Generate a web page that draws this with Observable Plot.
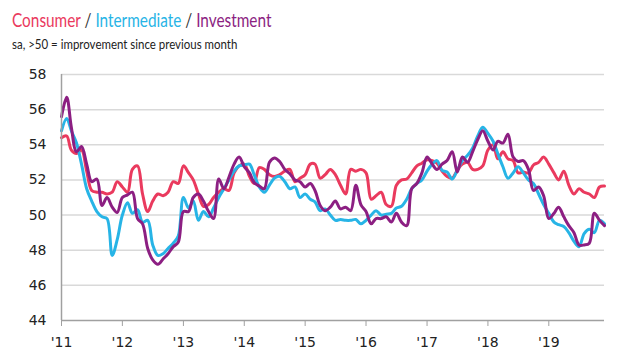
<!DOCTYPE html>
<html>
<head>
<meta charset="utf-8">
<script src="https://cdn.jsdelivr.net/npm/d3@7"></script>
<script src="https://cdn.jsdelivr.net/npm/@observablehq/plot@0.6"></script>
<style>
  html, body { margin: 0; padding: 0; background: #fff; }
  #wrap { width: 640px; height: 360px; position: relative; overflow: hidden; }
  #head { height: 60px; position: relative; }
  #sub { position: absolute; left: 12px; top: 9px; font-family: Lato, "Open Sans", sans-serif; font-size: 18.5px; color: #333; white-space: nowrap; transform: scaleX(0.83); transform-origin: 0 0; }
  #note { position: absolute; left: 12px; top: 36px; font-family: Lato, "Open Sans", sans-serif; font-size: 13.5px; color: #222; white-space: nowrap; transform: scaleX(0.85); transform-origin: 0 0; }
  #chart svg { display: block; }
</style>
</head>
<body>
<div id="wrap">
  <div id="head">
    <div id="sub"><span id="s0"></span> / <span id="s1"></span> / <span id="s2"></span></div>
    <div id="note">sa, &gt;50 = improvement since previous month</div>
  </div>
  <div id="chart"></div>
</div>
<script>
const seriesNames = ["Consumer", "Intermediate", "Investment"];
const seriesColors = ["#ea3a5e", "#27b4e6", "#8c1f82"];
const yTicks = [44, 46, 48, 50, 52, 54, 56, 58];
const yearTickLabels = ["'11", "'12", "'13", "'14", "'15", "'16", "'17", "'18", "'19"];

// Monthly values, Jan 2011 .. Dec 2019
const consumer = [
  54.4, 54.5, 53.7, 53.5, 53.7, 52.5, 51.4, 51.3, 51.3, 51.2, 51.3, 51.9,
  51.6, 51.3, 52.6, 52.8, 51.2, 50.2, 50.8, 51.2, 51.1, 51.3, 51.9, 51.8,
  52.8, 52.4, 52.0, 51.2, 50.5, 50.6, 51.0, 51.3, 51.5, 51.4, 52.4, 52.8,
  52.9, 52.2, 51.8, 52.7, 52.6, 52.3, 52.2, 52.3, 52.5, 52.6, 51.9, 52.1,
  52.3, 52.9, 52.9, 52.1, 52.3, 52.6, 52.3, 51.7, 51.2, 52.6, 52.5, 52.6,
  52.4, 50.9, 51.1, 51.3, 50.6, 50.5, 51.7, 52.0, 52.05, 52.4, 52.8, 52.95,
  53.15, 53.1, 52.95, 52.5, 52.2, 52.1, 52.55, 52.9, 53.0, 52.6, 52.6, 52.8,
  53.7, 54.0, 53.2, 53.6, 53.2, 53.1, 52.4, 52.45, 52.4, 52.85, 53.0, 53.3,
  52.9, 52.4, 52.0, 52.5, 51.7, 51.2, 51.5, 51.3, 51.2, 51.0, 51.6, 51.65
];
const intermediate = [
  54.8, 55.5, 54.8, 54.1, 52.9, 51.5, 50.8, 50.2, 49.9, 49.8, 47.7, 48.6,
  50.0, 50.7, 50.1, 50.3, 49.6, 49.7, 48.3, 47.7, 47.8, 48.1, 48.4, 48.8,
  51.0, 50.4, 50.8, 49.7, 50.2, 49.9, 50.4, 51.0, 51.5, 52.0, 52.5, 52.8,
  52.85, 52.9, 52.3, 51.6, 51.3, 51.7, 52.1, 52.2, 51.9, 51.5, 51.6, 51.0,
  51.2, 50.9, 50.75, 50.25, 50.35, 50.0, 49.7, 49.75, 49.7, 49.7, 49.75, 49.5,
  49.7, 50.0, 50.25, 50.0, 50.05, 50.1, 50.4, 50.5, 50.9, 51.5, 51.8, 52.0,
  52.5, 52.9, 53.1, 52.55, 52.45, 52.05, 52.55, 53.1, 53.4, 53.8, 54.5, 55.0,
  54.65, 54.2, 53.5, 52.75, 52.1, 52.4, 52.75, 52.4, 52.0, 51.8, 51.2, 50.6,
  50.1, 49.6, 49.45, 49.35, 49.0, 48.5, 48.2, 48.95, 49.2, 49.0, 49.7, 49.5
];
const investment = [
  55.6, 56.7, 55.0, 53.6, 53.9, 52.9, 51.9, 52.05, 50.55, 51.0, 50.45, 50.15,
  51.0, 51.15, 51.3, 49.8, 49.5, 48.1, 47.45, 47.2, 47.5, 47.8, 48.2, 48.45,
  50.2, 50.2, 51.0, 51.2, 50.8, 50.2, 49.8, 52.05, 51.5, 52.15, 52.9, 53.3,
  52.75, 52.4, 51.85, 51.65, 51.5, 53.0, 53.25, 53.05, 52.6, 52.35, 52.0, 51.9,
  51.6, 51.8, 51.4, 50.55, 50.25, 50.45, 50.8, 50.35, 50.45, 50.25, 51.7, 50.6,
  50.2, 49.5, 49.8, 49.8, 49.9, 49.6, 50.1, 49.6, 49.4, 51.5, 51.8, 52.4,
  53.3, 52.9, 52.6, 52.9, 53.1, 53.6, 52.45, 53.3, 53.0, 53.6, 54.3, 54.8,
  54.2, 53.7, 54.2, 54.1, 54.6, 53.3, 53.05, 53.1, 52.6, 51.4, 51.6, 51.1,
  49.8, 50.1, 50.45, 49.9, 49.4, 49.0, 48.3, 48.3, 48.4, 50.1, 49.7, 49.4
];

const start = new Date(Date.UTC(2011, 0, 1));
const end = new Date(Date.UTC(2019, 11, 1));
const months = d3.utcMonth.range(start, new Date(Date.UTC(2020, 0, 1)));
const yearTicks = d3.utcYear.range(start, new Date(Date.UTC(2020, 0, 1)));

const valuesBySeries = [consumer, intermediate, investment];
const table = seriesNames.flatMap((name, s) =>
  valuesBySeries[s].map((v, i) => ({series: name, date: months[i], value: v}))
);

seriesNames.forEach((n, i) => {
  const el = document.getElementById("s" + i);
  el.textContent = n;
  el.style.color = seriesColors[i];
});

const chart = Plot.plot({
  width: 640,
  height: 300,
  marginTop: 14,
  marginBottom: 40,
  marginLeft: 61,
  marginRight: 36,
  x: {type: "utc", domain: [start, end]},
  y: {domain: [44, 58]},
  color: {domain: seriesNames, range: seriesColors},
  style: {fontFamily: "'DejaVu Sans', Verdana, sans-serif", fontSize: "14px", color: "#222", background: "#fff"},
  marks: [
    Plot.ruleY(yTicks.slice(1), {stroke: "#d9d9d9", strokeWidth: 1.5}),
    Plot.axisY({ticks: yTicks, tickSize: 0, tickPadding: 15, label: null, fill: "#222"}),
    Plot.axisX({ticks: yearTicks, tickFormat: (d, i) => yearTickLabels[i], tickSize: 6, tickPadding: 11, label: null, stroke: "#a0a0a0", fill: "#222"}),
    Plot.line(table, {x: "date", y: "value", stroke: "series", z: "series", curve: "catmull-rom", strokeWidth: 3}),
    Plot.ruleX([start], {stroke: "#a0a0a0", strokeWidth: 1.5}),
    Plot.ruleY([44], {stroke: "#a0a0a0", strokeWidth: 1.5})
  ]
});
document.getElementById("chart").appendChild(chart);
</script>
</body>
</html>
